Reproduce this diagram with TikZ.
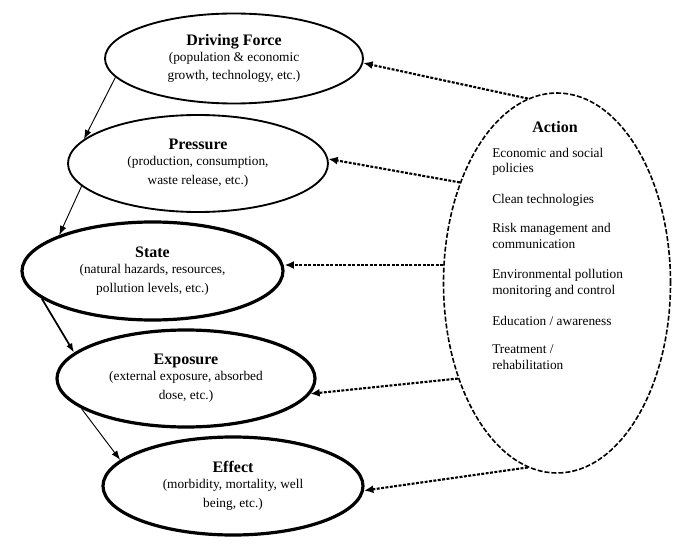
\documentclass[tikz,border=0pt]{standalone}
\usepackage{fontspec}
\setmainfont{Liberation Serif}
\usetikzlibrary{shapes.geometric,arrows.meta}
\newcommand\stagetitle[1]{{\fontsize{12}{14}\selectfont\bfseries #1}}
\begin{document}
\begin{tikzpicture}[x=0.75pt,y=-0.75pt,
  stage/.style={ellipse,draw,line width=1.4pt,inner sep=0pt,align=center,font=\fontsize{10}{14}\selectfont},
  heavy stage/.style={stage,line width=2.4pt},
  flow/.style={-{Latex[length=7pt,width=5pt]},line width=0.7pt},
  act arrow/.style={-{Latex[length=7pt,width=6pt]},line width=1.6pt,dash pattern=on 2.2pt off 1.1pt},
  item/.style={anchor=base west,align=left,inner sep=0pt,font=\fontsize{10}{11.5}\selectfont}]
\useasboundingbox (0,0) rectangle (682,549);
\node[stage,minimum width=193.5pt,minimum height=67.5pt] (df) at (234,58.5)
  {\stagetitle{Driving Force}\\[-2pt](population \& economic\\growth, technology, etc.)};
\node[stage,minimum width=195pt,minimum height=72.75pt] (pr) at (198,163.5)
  {\stagetitle{Pressure}\\[-2pt](production, consumption,\\waste release, etc.)};
\node[heavy stage,minimum width=195.75pt,minimum height=73.5pt] (st) at (152.5,271)
  {\stagetitle{State}\\[-2pt](natural hazards, resources,\\pollution levels, etc.)};
\node[heavy stage,minimum width=193.5pt,minimum height=72.75pt] (ex) at (186,378.5)
  {\stagetitle{Exposure}\\[-2pt](external exposure, absorbed\\dose, etc.)};
\node[heavy stage,minimum width=195pt,minimum height=73.5pt] (ef) at (233,486)
  {\stagetitle{Effect}\\[-2pt](morbidity, mortality, well\\being, etc.)};
\node[ellipse,draw,line width=1.2pt,dash pattern=on 3.75pt off 1.5pt,minimum width=170.25pt,minimum height=285pt] (act) at (557,283) {};
\node[anchor=base,inner sep=0pt] (acttitle) at (555,133) {\stagetitle{Action}};
\node[item] (a1) at (492,173) {Economic and social\\policies};
\node[item] (a2) at (492,204) {Clean technologies};
\node[item] (a3) at (492,248) {Risk management and\\communication};
\node[item] (a4) at (492,294) {Environmental pollution\\monitoring and control};
\node[item] (a5) at (492,325) {Education / awareness};
\node[item] (a6) at (492,369) {Treatment /\\rehabilitation};
\draw[flow] (df.189) -- (pr.168);
\draw[flow] (pr.191) -- (st.159);
\draw[flow,line width=1.3pt] (st.194) -- (ex.167);
\draw[flow] (ex.196) -- (ef.167);
\draw[act arrow] (act.99) -- (df.-2);
\draw[act arrow] (act.134) -- (pr.2);
\draw[act arrow] (act.171) -- (st.east |- act.171);
\draw[act arrow] (act.224) -- (ex.-7);
\draw[act arrow] (act.261) -- (ef.-2);
\end{tikzpicture}
\end{document}
